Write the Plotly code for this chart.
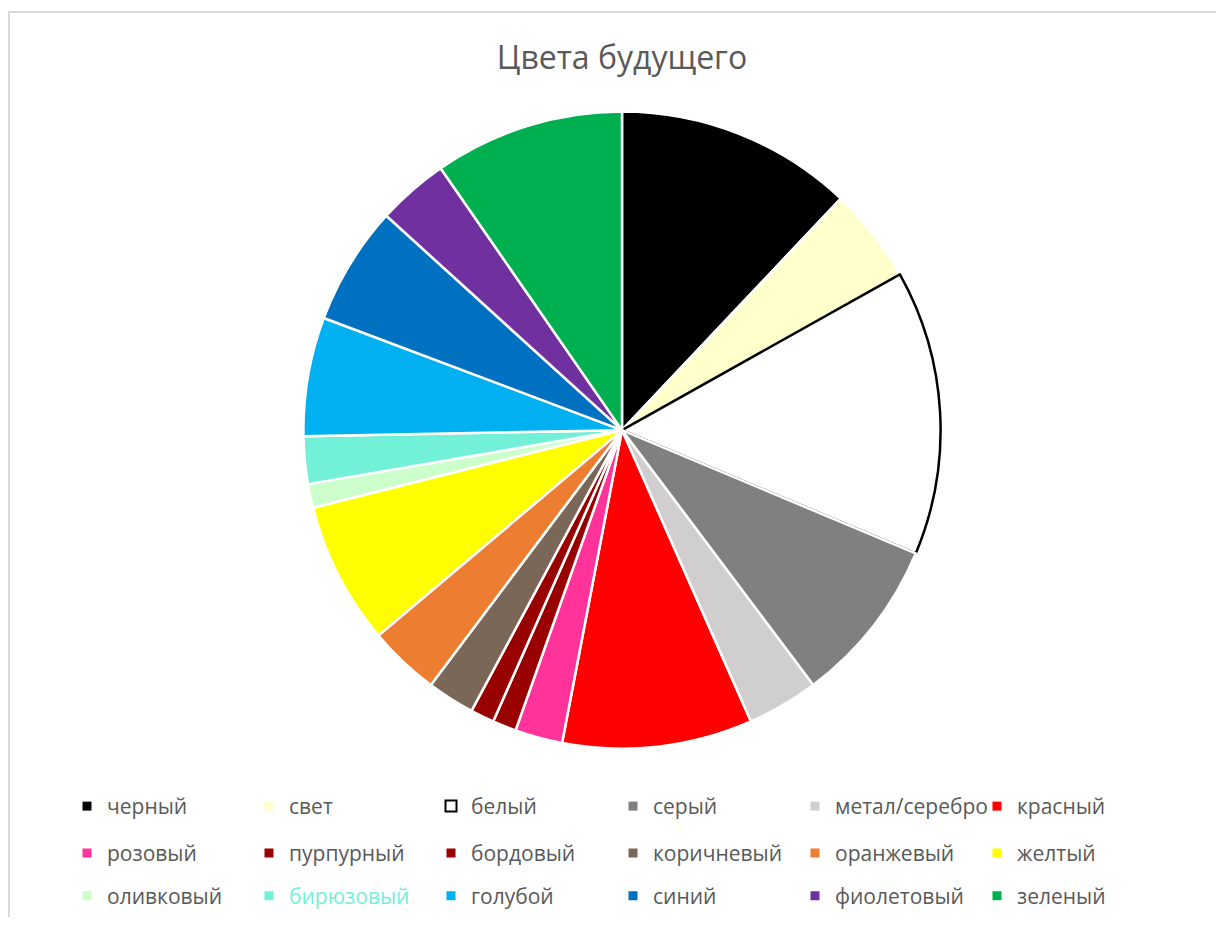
import plotly.graph_objects as go

labels = ["черный", "свет", "белый", "серый", "метал/серебро", "красный",
          "розовый", "пурпурный", "бордовый", "коричневый", "оранжевый", "желтый",
          "оливковый", "бирюзовый", "голубой", "синий", "фиолетовый", "зеленый"]
values = [10, 4, 12, 7, 3, 8, 2, 1, 1, 2, 3, 6, 1, 2, 5, 5, 3, 8]
colors = ["#000000", "#FFFFCC", "#FFFFFF", "#808080", "#D0CECE", "#FF0000",
          "#FF3399", "#990000", "#990000", "#7B6757", "#ED7D31", "#FFFF00",
          "#CCFFCC", "#73F0D8", "#00B0F0", "#0070C0", "#7030A0", "#00B050"]
line_colors = ["#FFFFFF", "#FFFFFF", "#000000"] + ["#FFFFFF"] * 15
title_text = "Цвета будущего"

# page body has an 8px margin -> work in figure coordinates
W, H = 1208, 909
cx, cy, r = 614, 424, 320
TEXT = "#595959"

fig = go.Figure()
fig.add_trace(go.Pie(
    labels=labels,
    values=values,
    sort=False,
    direction="clockwise",
    rotation=0,
    marker=dict(colors=colors, line=dict(color=line_colors, width=2.5)),
    textinfo="none",
    hoverinfo="label+value+percent",
    showlegend=False,
    domain=dict(x=[(cx - r) / W, (cx + r) / W], y=[(H - cy - r) / H, (H - cy + r) / H]),
))

# legend: 3 rows of 6 entries
legend_ids = ["legend", "legend2", "legend3"]
row_y = [802, 849, 892]
for i, (lab, col) in enumerate(zip(labels, colors)):
    name = lab
    if lab == "бирюзовый":
        name = f"<span style='color:{col}'>{lab}</span>"
    mk = dict(symbol="square", size=9, color=col, line=dict(width=0))
    if col.upper() == "#FFFFFF":
        mk = dict(symbol="square", size=11, color="#FFFFFF", line=dict(color="#000000", width=2))
    fig.add_trace(go.Scatter(
        x=[None], y=[None], mode="markers", name=name, marker=mk,
        legend=legend_ids[i // 6], showlegend=True, hoverinfo="skip",
    ))

leg_common = dict(orientation="h", x=59 / W, xanchor="left", yanchor="middle",
                  entrywidth=137, entrywidthmode="pixels", itemwidth=30,
                  font=dict(family="Open Sans", size=21, color=TEXT),
                  bgcolor="rgba(0,0,0,0)", itemclick=False, itemdoubleclick=False)

fig.update_layout(
    width=W, height=H,
    margin=dict(l=0, r=0, t=0, b=0),
    paper_bgcolor="white",
    plot_bgcolor="white",
    xaxis=dict(visible=False),
    yaxis=dict(visible=False),
    title=dict(text=title_text, x=cx / W, xanchor="center", y=1 - 50 / H, yanchor="middle",
               font=dict(family="Open Sans", size=32, color=TEXT)),
    legend=dict(y=1 - row_y[0] / H, **leg_common),
    legend2=dict(y=1 - row_y[1] / H, **leg_common),
    legend3=dict(y=1 - row_y[2] / H, **leg_common),
    shapes=[dict(type="rect", xref="paper", yref="paper",
                 x0=1 / W, x1=1.05, y0=-0.05, y1=1 - 4 / H,
                 line=dict(color="#D9D9D9", width=2), fillcolor="rgba(0,0,0,0)", layer="below")],
)

fig.write_html("out.html")
